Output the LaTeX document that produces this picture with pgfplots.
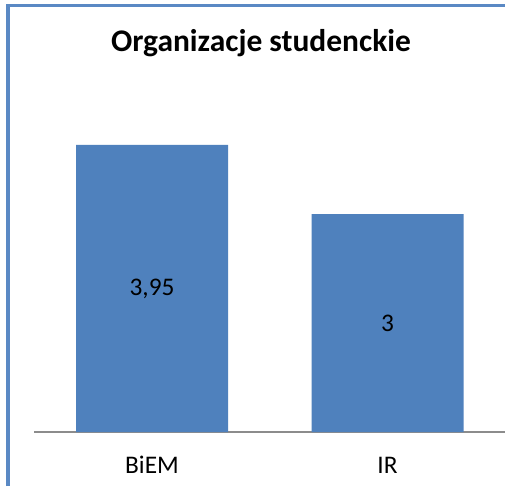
\documentclass[border=0pt]{standalone}
\usepackage{pgfplots}
\pgfplotsset{compat=1.18}
\usepackage{fontspec}
\setmainfont{Carlito}
\definecolor{barblue}{HTML}{4F81BD}
\definecolor{frameblue}{HTML}{5A89C4}
\definecolor{axgray}{HTML}{8C8C8C}
\begin{document}
\begin{tikzpicture}[x=0.75pt,y=0.75pt]
\path[use as bounding box, clip] (0,0) rectangle (505,486);
\fill[white] (0,0) rectangle (505,486);
\begin{axis}[
  at={(25.6875pt,40.5pt)}, anchor=south west,
  scale only axis, width=353.25pt, height=245.25pt,
  xmin=-0.5, xmax=1.5, ymin=0, ymax=4.5,
  axis y line=none, axis x line*=bottom,
  x axis line style={draw=axgray, line width=1.5pt, -},
  xtick={0,1}, xticklabels={BiEM, IR},
  major tick length=0pt,
  xticklabel style={anchor=base, yshift=-30.75pt, font=\fontsize{19}{22}\selectfont},
  ytick=\empty,
  clip=false,
]
\addplot[ybar, bar shift=0pt, bar width=114pt, fill=barblue, draw=none] coordinates {(0,3.95) (1,3)};
\addplot[draw=none, mark=none, nodes near coords, point meta=explicit symbolic,
  nodes near coords align=center,
  every node near coord/.append style={font=\fontsize{19}{22}\selectfont, text=black, anchor=center}]
  coordinates {(0,1.975) [3,95] (1,1.5) [3]};
\end{axis}
\node[font=\bfseries\fontsize{23.6}{28}\selectfont, anchor=base] at (261,434) {Organizacje studenckie};
\draw[frameblue, line width=1.8pt] (6,480.5) -- (505,480.5);
\draw[frameblue, line width=3.3pt] (8.2,0) -- (8.2,481.4);
\end{tikzpicture}
\end{document}
